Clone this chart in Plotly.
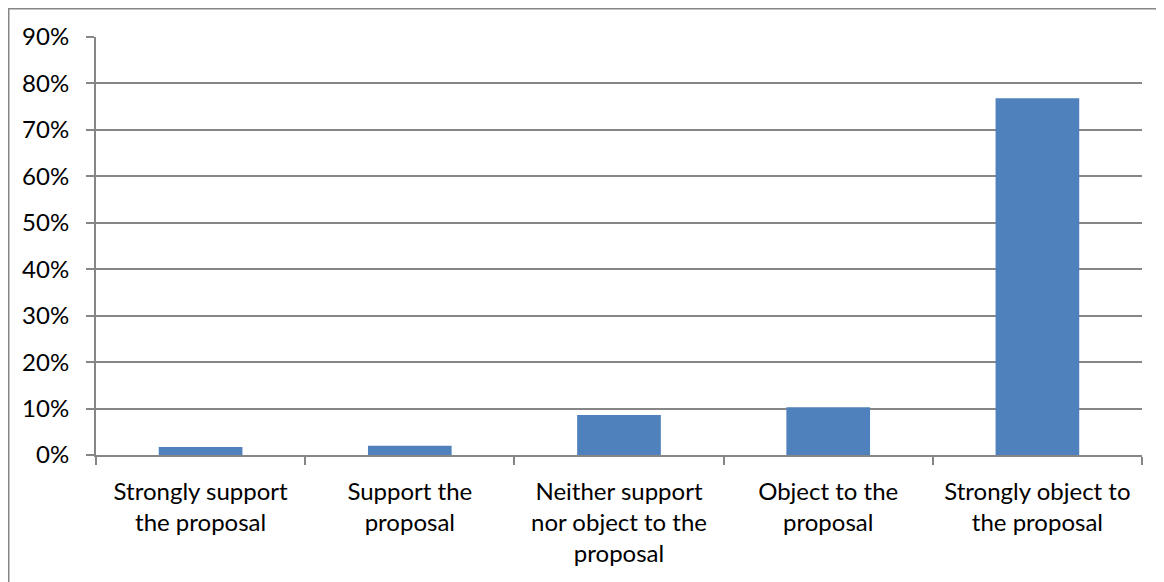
import plotly.graph_objects as go

categories = [
    "Strongly support<br>the proposal",
    "Support the<br>proposal",
    "Neither support<br>nor object to the<br>proposal",
    "Object to the<br>proposal",
    "Strongly object to<br>the proposal",
]
values = [1.7, 2.0, 8.6, 10.3, 76.8]
y_ticks = [0, 10, 20, 30, 40, 50, 60, 70, 80, 90]
y_labels = [f"{v}%" for v in y_ticks]

# page body has an 8px default margin, so figure coordinates are page - 8
OFF = 8
W, H = 1164 - OFF, 582 - OFF
L, R, T, B = 96 - OFF, 1142 - OFF, 37 - OFF, 455 - OFF

fig = go.Figure()
fig.add_trace(go.Bar(
    x=list(range(len(categories))),
    y=values,
    marker=dict(color="#4F81BD", line=dict(width=0)),
    width=0.4,
))

gray = "#868686"
FS = 24
fig.update_layout(
    width=W, height=H,
    margin=dict(l=L, r=W - R, t=T, b=H - B, pad=0),
    paper_bgcolor="white",
    plot_bgcolor="white",
    showlegend=False,
    font=dict(family="Lato", size=FS, color="black"),
    bargap=0.6,
)
fig.update_xaxes(
    range=[-0.5, len(categories) - 0.5],
    tickmode="array",
    tickvals=list(range(len(categories))),
    ticktext=categories,
    ticks="",
    ticklabelstandoff=14,
    showgrid=False,
    showline=True, linecolor=gray, linewidth=2,
    tickfont=dict(size=FS),
)
fig.update_xaxes(
    minor=dict(tickmode="array", tickvals=[i - 0.5 for i in range(len(categories) + 1)],
               ticks="outside", ticklen=8, tickcolor=gray, tickwidth=2, showgrid=False),
)
fig.update_yaxes(
    range=[0, 90],
    tickmode="array",
    tickvals=y_ticks,
    ticktext=y_labels,
    ticks="outside", ticklen=8, tickcolor=gray, tickwidth=2,
    ticklabelstandoff=12,
    showgrid=True, gridcolor=gray, gridwidth=2,
    showline=True, linecolor=gray, linewidth=2,
    zeroline=False,
    tickfont=dict(size=FS),
)
# outer chart border (left and top visible)
x0 = (0.5 - L) / (R - L)
x1 = (W + 20 - L) / (R - L)
y1 = (B - 0.5) / (B - T)
y0 = (B - (H + 20)) / (B - T)
fig.add_shape(type="rect", xref="paper", yref="paper",
              x0=x0, x1=x1, y0=y0, y1=y1,
              line=dict(color=gray, width=2), fillcolor="rgba(0,0,0,0)", layer="below")

fig.write_html("out.html")
